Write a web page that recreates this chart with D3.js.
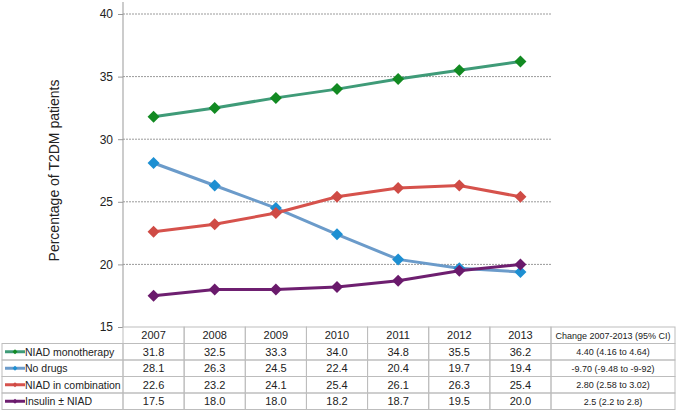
<!DOCTYPE html>
<html>
<head>
    <style>
        body { margin: 0; background: #fff; }
        svg text { font-family: "Liberation Sans", Arial, sans-serif; fill: #222; }
        .cell { fill: none; stroke: #bdbdbd; stroke-width: 1; }
    </style>
    <script src="https://d3js.org/d3.v7.min.js"></script>
</head>
<body>
<svg width="677" height="412"></svg>
<script>
    var years = ["2007", "2008", "2009", "2010", "2011", "2012", "2013"];
    var seriesNames = ["NIAD monotherapy", "No drugs", "NIAD in combination", "Insulin \u00b1 NIAD"];
    var monotherapy = [31.8, 32.5, 33.3, 34.0, 34.8, 35.5, 36.2];
    var noDrugs = [28.1, 26.3, 24.5, 22.4, 20.4, 19.7, 19.4];
    var combination = [22.6, 23.2, 24.1, 25.4, 26.1, 26.3, 25.4];
    var insulin = [17.5, 18.0, 18.0, 18.2, 18.7, 19.5, 20.0];
    var changes = ["4.40 (4.16 to 4.64)", "-9.70 (-9.48 to -9-92)", "2.80 (2.58 to 3.02)", "2.5 (2.2 to 2.8)"];
    var yTicks = [15, 20, 25, 30, 35, 40];

    var lineColors = ["#3f9b78", "#6b9bca", "#d6524c", "#6e1f70"];
    var markColors = ["#128a22", "#1d8fd2", "#cf4b45", "#6a1a6c"];
    var values = [monotherapy, noDrugs, combination, insulin];

    var svg = d3.select("svg");
    var plotLeft = 123, plotRight = 551, plotTop = 14, plotBottom = 327;
    var rowH = 16.5;

    var x = d3.scaleBand().domain(years).range([plotLeft, plotRight]);
    var y = d3.scaleLinear().domain([15, 40]).range([plotBottom, plotTop]);

    // grid
    svg.append("g").selectAll("line")
        .data(yTicks.filter(function (d) { return d > 15; }))
        .enter().append("line")
        .attr("x1", plotLeft).attr("x2", plotRight)
        .attr("y1", function (d) { return y(d); })
        .attr("y2", function (d) { return y(d); })
        .attr("stroke", "#9a9a9a")
        .attr("stroke-dasharray", "2,1");

    // y axis
    var yAxis = svg.append("g")
        .attr("transform", "translate(" + plotLeft + ",0)")
        .call(d3.axisLeft(y).tickValues(yTicks).tickSize(5).tickPadding(5));
    yAxis.select(".domain").remove();
    yAxis.selectAll("line").attr("stroke", "#999");
    yAxis.selectAll("text").style("font-size", "12px").attr("fill", "#222");
    svg.append("line")
        .attr("x1", plotLeft).attr("x2", plotLeft)
        .attr("y1", 2).attr("y2", plotBottom)
        .attr("stroke", "#999");

    svg.append("text")
        .attr("transform", "translate(59," + (plotTop + plotBottom) / 2 + ") rotate(-90)")
        .attr("text-anchor", "middle")
        .style("font-size", "14px")
        .text("Percentage of T2DM patients");

    // lines
    var line = d3.line()
        .x(function (d, i) { return x(years[i]) + x.bandwidth() / 2; })
        .y(function (d) { return y(d); });

    var diamondPath = function (s) { return "M0,-" + s + "L" + s + ",0L0," + s + "L-" + s + ",0Z"; };

    values.forEach(function (vals, k) {
        svg.append("path")
            .datum(vals)
            .attr("fill", "none")
            .attr("stroke", lineColors[k])
            .attr("stroke-width", 3)
            .attr("d", line);
        svg.append("g").selectAll("path")
            .data(vals)
            .enter().append("path")
            .attr("transform", function (d, i) {
                return "translate(" + (x(years[i]) + x.bandwidth() / 2) + "," + y(d) + ")";
            })
            .attr("d", diamondPath(6))
            .attr("fill", markColors[k]);
    });

    // table
    var table = svg.append("g");
    var chLeft = plotRight, chRight = 675, legLeft = 2;

    years.forEach(function (yr) {
        table.append("rect").attr("class", "cell")
            .attr("x", x(yr)).attr("y", plotBottom)
            .attr("width", x.bandwidth()).attr("height", rowH);
        table.append("text")
            .attr("x", x(yr) + x.bandwidth() / 2).attr("y", plotBottom + rowH / 2 + 4)
            .attr("text-anchor", "middle").style("font-size", "11px")
            .text(yr);
    });
    table.append("rect").attr("class", "cell")
        .attr("x", chLeft).attr("y", plotBottom)
        .attr("width", chRight - chLeft).attr("height", rowH);
    table.append("text")
        .attr("x", (chLeft + chRight) / 2).attr("y", plotBottom + rowH / 2 + 3.5)
        .attr("text-anchor", "middle").style("font-size", "9px")
        .text("Change 2007-2013 (95% CI)");

    seriesNames.forEach(function (name, k) {
        var ry = plotBottom + rowH * (k + 1);
        table.append("rect").attr("class", "cell")
            .attr("x", legLeft).attr("y", ry)
            .attr("width", plotLeft - legLeft).attr("height", rowH);
        table.append("line")
            .attr("x1", 5).attr("x2", 25)
            .attr("y1", ry + rowH / 2).attr("y2", ry + rowH / 2)
            .attr("stroke", lineColors[k]).attr("stroke-width", 3);
        table.append("path")
            .attr("transform", "translate(15," + (ry + rowH / 2) + ")")
            .attr("d", diamondPath(2.5))
            .attr("fill", markColors[k]);
        table.append("text")
            .attr("x", 25).attr("y", ry + rowH / 2 + 4)
            .style("font-size", "10.5px")
            .text(name);

        vals = values[k];
        vals.forEach(function (v, i) {
            table.append("rect").attr("class", "cell")
                .attr("x", x(years[i])).attr("y", ry)
                .attr("width", x.bandwidth()).attr("height", rowH);
            table.append("text")
                .attr("x", x(years[i]) + x.bandwidth() / 2).attr("y", ry + rowH / 2 + 4)
                .attr("text-anchor", "middle").style("font-size", "11px")
                .text(v.toFixed(1));
        });

        table.append("rect").attr("class", "cell")
            .attr("x", chLeft).attr("y", ry)
            .attr("width", chRight - chLeft).attr("height", rowH);
        table.append("text")
            .attr("x", (chLeft + chRight) / 2).attr("y", ry + rowH / 2 + 3.5)
            .attr("text-anchor", "middle").style("font-size", "9px")
            .text(changes[k]);
    });
</script>
</body>
</html>
